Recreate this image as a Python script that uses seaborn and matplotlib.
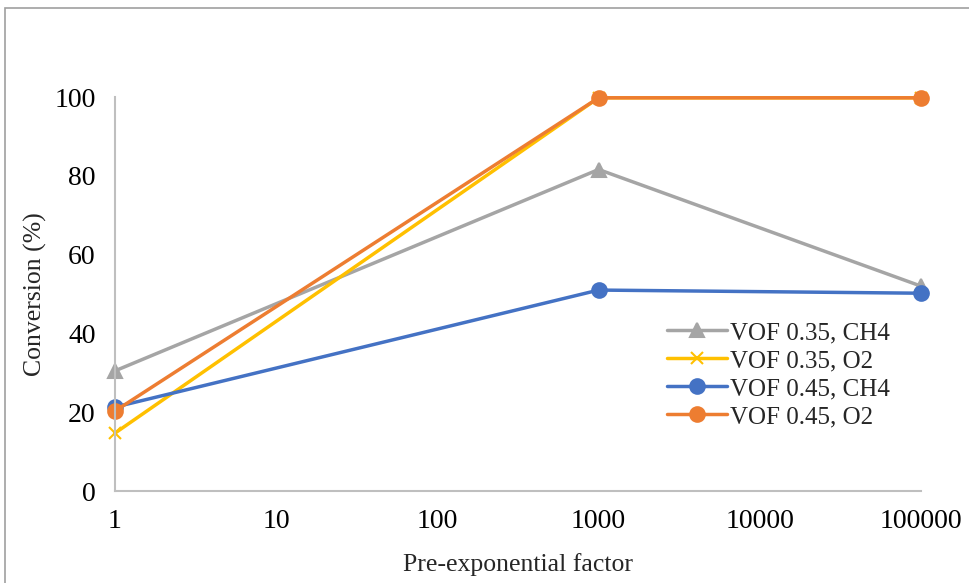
import matplotlib
matplotlib.use("Agg")
import matplotlib.pyplot as plt
import matplotlib.patches as mpatches
import seaborn as sns
import pandas as pd

# Pre-exponential factor values and conversion results
factors = [1, 1000, 100000]
series_names = ["VOF 0.35, CH4", "VOF 0.35, O2", "VOF 0.45, CH4", "VOF 0.45, O2"]
vof035_ch4 = [30.5, 81.6, 52.0]
vof035_o2 = [14.7, 99.8, 99.8]
vof045_ch4 = [21.3, 51.0, 50.2]
vof045_o2 = [20.3, 99.8, 99.8]
x_tick_labels = ["1", "10", "100", "1000", "10000", "100000"]
y_ticks = [0, 20, 40, 60, 80, 100]

series_colors = ["#A5A5A5", "#FFC000", "#4472C4", "#ED7D31"]
series_markers = ["^", "x", "o", "o"]

sns.set_style("white")
plt.rcParams["font.family"] = ["Liberation Serif", "DejaVu Serif"]

fig = plt.figure(figsize=(9.7, 5.83), dpi=100)
ax = fig.add_axes([0.1186, 0.1578, 0.8309, 0.6758])

for name, vals, col, mk in zip(series_names,
                               [vof035_ch4, vof035_o2, vof045_ch4, vof045_o2],
                               series_colors, series_markers):
    d = pd.DataFrame({"factor": factors, "conversion": vals})
    sns.lineplot(data=d, x="factor", y="conversion", color=col, marker=mk,
                 markersize=10.5 if mk != "x" else 9, markeredgewidth=1.5,
                 markeredgecolor=col, linewidth=2.5, label=name, ax=ax,
                 clip_on=False)

ax.set_xscale("log")
ax.set_xlim(1, 100000)
ax.set_ylim(0, 100)
ax.set_xticks([10 ** i for i in range(6)])
ax.set_xticklabels(x_tick_labels)
ax.minorticks_off()
ax.set_yticks(y_ticks)
ax.tick_params(axis="both", length=0, labelsize=20, colors="black")
ax.tick_params(axis="x", pad=13)
ax.tick_params(axis="y", pad=14)
ax.set_xlabel("Pre-exponential factor", fontsize=18.5, labelpad=14)
ax.set_ylabel("Conversion (%)", fontsize=18.5, labelpad=5)

for side in ["top", "right"]:
    ax.spines[side].set_visible(False)
for side in ["left", "bottom"]:
    ax.spines[side].set_color("#BFBFBF")
    ax.spines[side].set_linewidth(1.5)

leg = ax.legend(loc="upper left", bbox_to_anchor=(0.672, 0.455), frameon=False,
                fontsize=18, handlelength=2.4, handletextpad=0.15,
                labelspacing=0.22, borderaxespad=0)

# Chart area border
fig.patches.append(mpatches.Rectangle((5 / 970, -0.1), 1.2, 1 - 8 / 583 + 0.1,
                                      transform=fig.transFigure, fill=False,
                                      edgecolor="#A0A0A0", linewidth=1.2))

fig.savefig("out.png", dpi=100, facecolor="white")
